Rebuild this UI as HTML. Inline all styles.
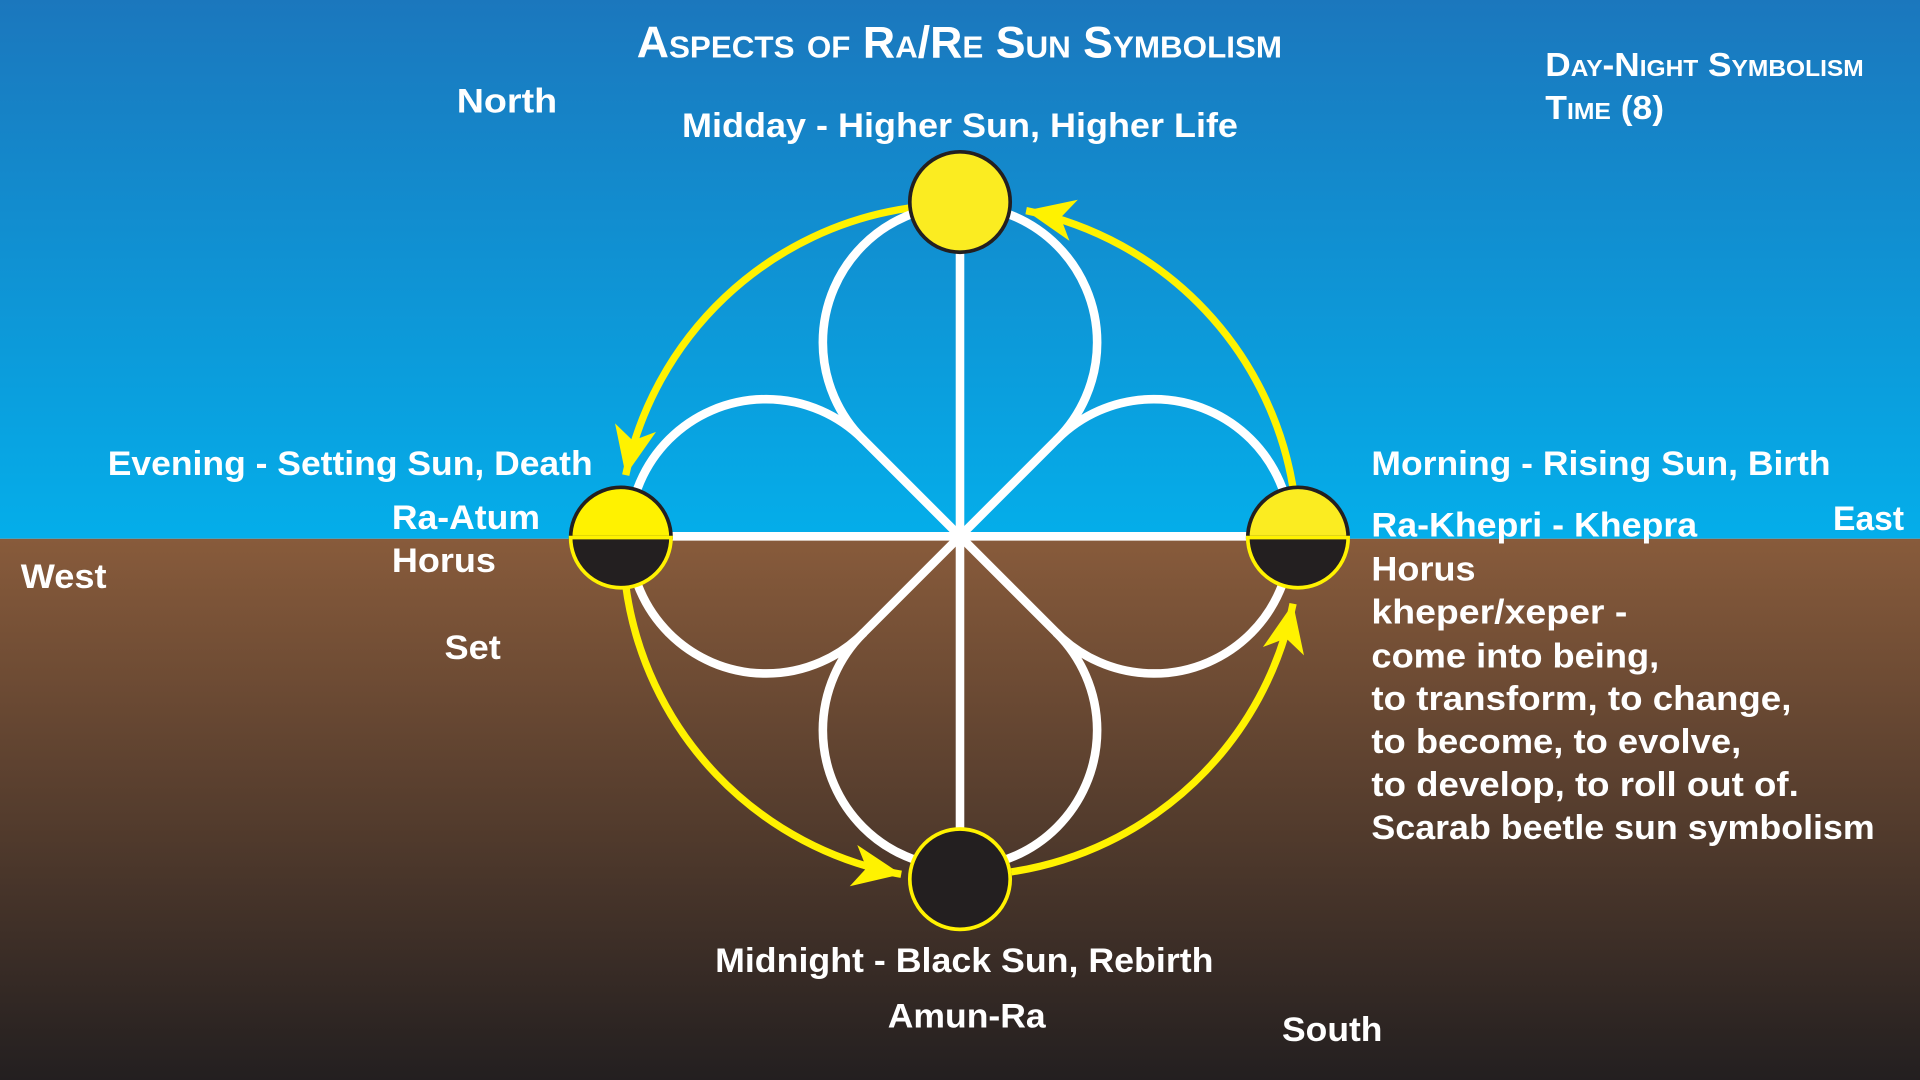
<!DOCTYPE html>
<html><head><meta charset="utf-8"><style>
html,body{margin:0;padding:0;width:1920px;height:1080px;overflow:hidden;}
svg{display:block}
text{font-family:"Liberation Sans",sans-serif;fill:#fff;font-weight:bold;}
</style></head><body>
<svg width="1920" height="1080" viewBox="0 0 1568 882" preserveAspectRatio="none">
<defs>
<linearGradient id="sky" x1="0" y1="0" x2="0" y2="1">
<stop offset="0" stop-color="#1b77bd"/><stop offset="1" stop-color="#04aeea"/></linearGradient>
<linearGradient id="ground" x1="0" y1="0" x2="0" y2="1">
<stop offset="0" stop-color="#885b3b"/><stop offset="1" stop-color="#231f20"/></linearGradient>
<marker id="ah" viewBox="0 0 10 10" refX="8" refY="5" markerWidth="9" markerHeight="9" markerUnits="userSpaceOnUse" orient="auto" style="overflow:visible">
<path d="M-36,-14 L8,5 L-36,24 L-24,5 Z" fill="#fff200"/></marker>
</defs>
<rect x="0" y="0" width="1568" height="440" fill="url(#sky)"/>
<rect x="0" y="440" width="1568" height="442" fill="url(#ground)"/>

<g fill="none" stroke="#fff200" stroke-width="6">
<path d="M1057,405 A277,277 0 0,0 838,172" marker-end="url(#ah)"/>
<path d="M742,170 A277,277 0 0,0 511,388" marker-end="url(#ah)"/>
<path d="M511,478 A277,277 0 0,0 736,714" marker-end="url(#ah)"/>
<path d="M826,712 A277,277 0 0,0 1056,493" marker-end="url(#ah)"/>
</g>

<g fill="none" stroke="#fff" stroke-width="7" stroke-linecap="round">
<path d="M705,359 A112,112 0 1,1 863,359"/>
<path d="M705,359 A112,112 0 1,0 705,517"/>
<path d="M863,359 A112,112 0 1,1 863,517"/>
<path d="M705,517 A112,112 0 1,0 863,517"/>
<path d="M784,438 L705,359 M784,438 L863,359 M784,438 L705,517 M784,438 L863,517"/>
<path d="M507,438 L1060,438 M784,165 L784,718"/>
</g>

<circle cx="784" cy="165" r="41" fill="#fbec21" stroke="#231f20" stroke-width="3"/>
<path d="M466,439 A41,41 0 0,1 548,439 Z" fill="#fff200" stroke="#231f20" stroke-width="3"/>
<path d="M466,439 A41,41 0 0,0 548,439 Z" fill="#231f20" stroke="#fff200" stroke-width="3"/>
<path d="M1019,439 A41,41 0 0,1 1101,439 Z" fill="#fbec21" stroke="#231f20" stroke-width="3"/>
<path d="M1019,439 A41,41 0 0,0 1101,439 Z" fill="#231f20" stroke="#fff200" stroke-width="3"/>
<circle cx="784" cy="718" r="41" fill="#231f20" stroke="#fff200" stroke-width="3"/>

<text x="520" y="47" font-size="36" textLength="527" lengthAdjust="spacingAndGlyphs" style="font-variant:small-caps">Aspects of Ra/Re Sun Symbolism</text>
<text x="1262" y="62" font-size="27" textLength="260" lengthAdjust="spacingAndGlyphs" style="font-variant:small-caps">Day-Night Symbolism</text>
<text x="1262" y="97" font-size="27" textLength="97" lengthAdjust="spacingAndGlyphs" style="font-variant:small-caps">Time (8)</text>
<g font-size="28">
<text x="373" y="92" textLength="82" lengthAdjust="spacingAndGlyphs">North</text>
<text x="557" y="112" textLength="454" lengthAdjust="spacingAndGlyphs">Midday - Higher Sun, Higher Life</text>
<text x="88" y="388" textLength="396" lengthAdjust="spacingAndGlyphs">Evening - Setting Sun, Death</text>
<text x="1120" y="388" textLength="375" lengthAdjust="spacingAndGlyphs">Morning - Rising Sun, Birth</text>
<text x="1497" y="433" textLength="58" lengthAdjust="spacingAndGlyphs">East</text>
<text x="320" y="432" textLength="121" lengthAdjust="spacingAndGlyphs">Ra-Atum</text>
<text x="320" y="467" textLength="85" lengthAdjust="spacingAndGlyphs">Horus</text>
<text x="17" y="480" textLength="70" lengthAdjust="spacingAndGlyphs">West</text>
<text x="363" y="538" textLength="46" lengthAdjust="spacingAndGlyphs">Set</text>
<text x="1120" y="438" textLength="266" lengthAdjust="spacingAndGlyphs">Ra-Khepri - Khepra</text>
<text x="1120" y="474" textLength="85" lengthAdjust="spacingAndGlyphs">Horus</text>
<text x="1120" y="509" textLength="209" lengthAdjust="spacingAndGlyphs">kheper/xeper -</text>
<text x="1120" y="545" textLength="235" lengthAdjust="spacingAndGlyphs">come into being,</text>
<text x="1120" y="580" textLength="343" lengthAdjust="spacingAndGlyphs">to transform, to change,</text>
<text x="1120" y="615" textLength="302" lengthAdjust="spacingAndGlyphs">to become, to evolve,</text>
<text x="1120" y="650" textLength="349" lengthAdjust="spacingAndGlyphs">to develop, to roll out of.</text>
<text x="1120" y="685" textLength="411" lengthAdjust="spacingAndGlyphs">Scarab beetle sun symbolism</text>
<text x="584" y="794" textLength="407" lengthAdjust="spacingAndGlyphs">Midnight - Black Sun, Rebirth</text>
<text x="725" y="839" textLength="129" lengthAdjust="spacingAndGlyphs">Amun-Ra</text>
<text x="1047" y="850" textLength="82" lengthAdjust="spacingAndGlyphs">South</text>
</g>
</svg>
</body></html>
